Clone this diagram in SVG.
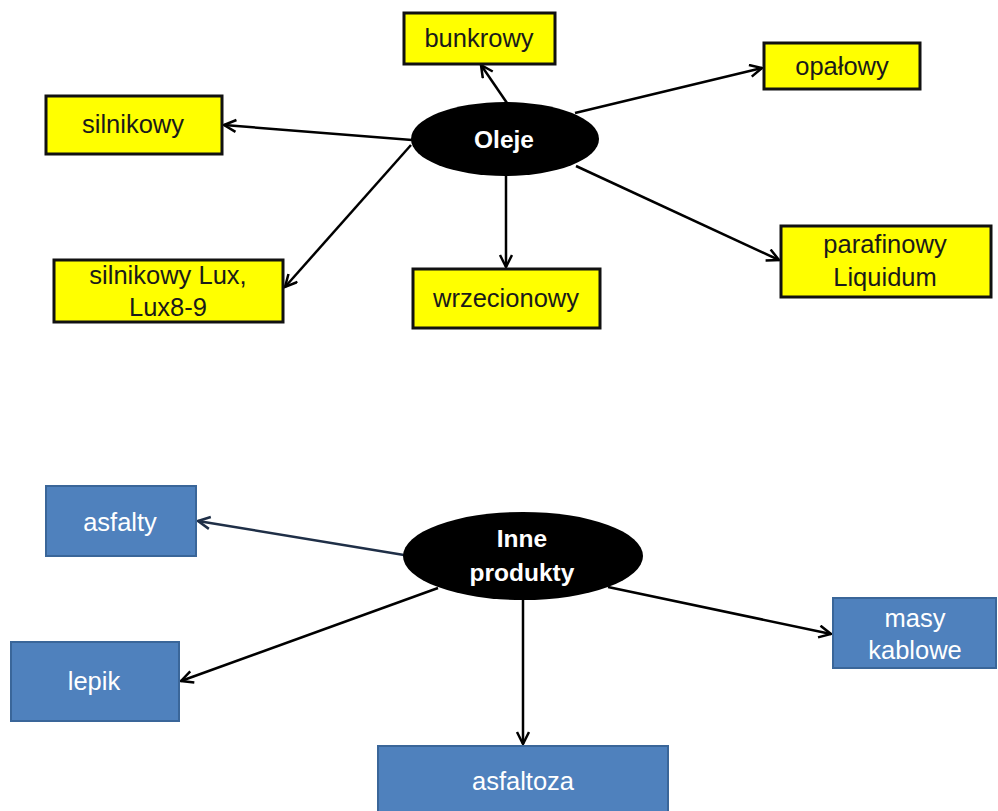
<svg xmlns="http://www.w3.org/2000/svg" width="998" height="811" viewBox="0 0 998 811">
<defs>
<style>
.y rect{fill:#ffff00;stroke:#111;stroke-width:3}
.b rect{fill:#4f81bd;stroke:#3a6699;stroke-width:2}
.y text{font-family:"Liberation Sans",Arial,sans-serif;font-size:25.5px;fill:#1a1a1a;text-anchor:middle}
.b text{font-family:"Liberation Sans",Arial,sans-serif;font-size:25.5px;fill:#fff;text-anchor:middle}
.e ellipse{fill:#000}
.e text{font-family:"Liberation Sans",Arial,sans-serif;font-size:24.5px;font-weight:bold;fill:#fff;text-anchor:middle}
.c line{stroke:#000;stroke-width:2.5;fill:none;marker-end:url(#arr)}
</style>
<marker id="arr" markerWidth="16" markerHeight="16" refX="13" refY="7" orient="auto" markerUnits="userSpaceOnUse">
<path d="M1,1 L13,7 L1,13" fill="none" stroke="#000" stroke-width="2.5"/>
</marker>
<marker id="arrn" markerWidth="16" markerHeight="16" refX="13" refY="7" orient="auto" markerUnits="userSpaceOnUse">
<path d="M1,1 L13,7 L1,13" fill="none" stroke="#1f2f47" stroke-width="2.5"/>
</marker>
</defs>
<rect width="998" height="811" fill="#fff"/>
<g id="connectors" class="c">
<line x1="507" y1="103" x2="481" y2="65"/>
<line x1="575" y1="113" x2="762" y2="68"/>
<line x1="412" y1="140" x2="224" y2="125"/>
<line x1="411" y1="145" x2="285" y2="287"/>
<line x1="506" y1="175" x2="506" y2="267"/>
<line x1="576" y1="166" x2="779" y2="260"/>
<line x1="404" y1="555" x2="198" y2="521" style="stroke:#1f2f47;marker-end:url(#arrn)"/>
<line x1="438" y1="588" x2="181" y2="681"/>
<line x1="523" y1="600" x2="523" y2="744"/>
<line x1="608" y1="587" x2="831" y2="634"/>
</g>
<g id="oleje" class="e"><ellipse cx="505" cy="139" rx="94" ry="37"/><text x="504" y="148">Oleje</text></g>
<g id="bunkrowy" class="y"><rect x="404" y="13" width="151" height="51"/><text x="479" y="47">bunkrowy</text></g>
<g id="opalowy" class="y"><rect x="764" y="43" width="156" height="46"/><text x="842" y="75">opałowy</text></g>
<g id="silnikowy" class="y"><rect x="46" y="96" width="176" height="58"/><text x="133" y="133">silnikowy</text></g>
<g id="silnikowy-lux" class="y"><rect x="54" y="260" width="229" height="62"/><text x="168" y="284">silnikowy Lux,</text><text x="168" y="316">Lux8-9</text></g>
<g id="wrzecionowy" class="y"><rect x="413" y="269" width="187" height="59"/><text x="506" y="307">wrzecionowy</text></g>
<g id="parafinowy" class="y"><rect x="781" y="226" width="210" height="71"/><text x="885" y="253">parafinowy</text><text x="885" y="286">Liquidum</text></g>
<g id="inne-produkty" class="e"><ellipse cx="523" cy="556" rx="120" ry="44"/><text x="522" y="547">Inne</text><text x="522" y="581">produkty</text></g>
<g id="asfalty" class="b"><rect x="46" y="486" width="150" height="70"/><text x="120" y="531">asfalty</text></g>
<g id="lepik" class="b"><rect x="11" y="642" width="168" height="79"/><text x="94" y="690">lepik</text></g>
<g id="asfaltoza" class="b"><rect x="378" y="746" width="290" height="72"/><text x="523" y="790">asfaltoza</text></g>
<g id="masy-kablowe" class="b"><rect x="833" y="598" width="163" height="70"/><text x="915" y="627">masy</text><text x="915" y="659">kablowe</text></g>
</svg>
